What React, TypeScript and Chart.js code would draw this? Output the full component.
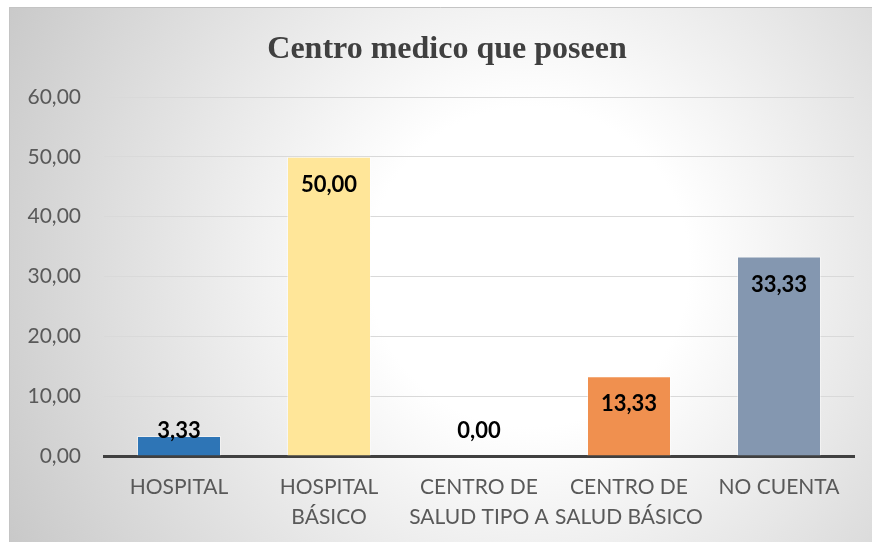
import React, { useEffect, useRef } from "react";
import { Chart, registerables } from "chart.js";

Chart.register(...registerables);

const categories: (string | string[])[] = [
  "HOSPITAL",
  ["HOSPITAL", "BÁSICO"],
  ["CENTRO DE", "SALUD TIPO A"],
  ["CENTRO DE", "SALUD BÁSICO"],
  "NO CUENTA",
];
const values: number[] = [3.33, 50.0, 0.0, 13.33, 33.33];
const barColors: string[] = ["#2e75b6", "#ffe699", "#a9d18e", "#f0904f", "#8497b0"];
const titleText = "Centro medico que poseen";
const yMax = 60;
const yStep = 10;

const fmt = (v: number) => v.toFixed(2).replace(".", ",");

const bgPlugin = {
  id: "bgPlugin",
  beforeDraw(chart: any) {
    const { ctx, width, height } = chart;
    ctx.save();
    const g = ctx.createRadialGradient(520, 260, 0, 520, 260, 640);
    g.addColorStop(0, "#ffffff");
    g.addColorStop(0.25, "#ffffff");
    g.addColorStop(1, "#c2c2c2");
    ctx.fillStyle = g;
    ctx.fillRect(0, 0, width, height);
    ctx.strokeStyle = "#c4c4c4";
    ctx.lineWidth = 1;
    ctx.beginPath();
    ctx.moveTo(0.5, height);
    ctx.lineTo(0.5, 0.5);
    ctx.lineTo(width, 0.5);
    ctx.stroke();
    // title
    ctx.fillStyle = "#404040";
    ctx.font = "bold 32px 'Liberation Serif', 'Times New Roman', serif";
    ctx.textAlign = "center";
    ctx.textBaseline = "alphabetic";
    ctx.fillText(titleText, 438, 51);
    ctx.restore();
  },
};

const labelPlugin = {
  id: "labelPlugin",
  afterDatasetsDraw(chart: any) {
    const { ctx } = chart;
    const meta = chart.getDatasetMeta(0);
    const yScale = chart.scales.y;
    const base = yScale.getPixelForValue(0);
    ctx.save();
    ctx.fillStyle = "#000000";
    ctx.font = "bold 22px Lato, 'Open Sans', sans-serif";
    ctx.textAlign = "center";
    ctx.textBaseline = "middle";
    meta.data.forEach((bar: any, i: number) => {
      const y = Math.min(bar.y + 28, base - 25);
      ctx.fillText(fmt(values[i]), bar.x, y);
    });
    ctx.restore();
  },
};

export default function App() {
  const ref = useRef<HTMLCanvasElement>(null);
  useEffect(() => {
    if (!ref.current) return;
    const chart = new Chart(ref.current, {
      type: "bar",
      data: {
        labels: categories,
        datasets: [
          {
            data: values,
            backgroundColor: barColors,
            borderColor: "rgba(255,255,255,0.45)",
            borderWidth: 1,
            barPercentage: 0.56,
            categoryPercentage: 1,
          },
        ],
      },
      options: {
        animation: false,
        responsive: false,
        maintainAspectRatio: false,
        layout: { padding: { top: 90, right: 18, left: 0, bottom: 0 } },
        plugins: {
          legend: { display: false },
          title: { display: false },
          tooltip: { enabled: false },
        },
        scales: {
          x: {
            afterFit(scale: any) {
              scale.height = 86;
            },
            grid: { display: false, drawTicks: false },
            border: { display: true, color: "#404040", width: 3 },
            ticks: {
              color: "#595959",
              font: { family: "Lato, 'Open Sans', sans-serif", size: 21, lineHeight: 1.45 },
              padding: 16,
              maxRotation: 0,
              autoSkip: false,
            },
          },
          y: {
            min: 0,
            max: yMax,
            afterFit(scale: any) {
              scale.width = 95;
            },
            grid: { color: "#d9d9d9", lineWidth: 1, drawTicks: false },
            border: { display: false },
            ticks: {
              stepSize: yStep,
              color: "#595959",
              padding: 23,
              font: { family: "Lato, 'Open Sans', sans-serif", size: 21 },
              callback: (v: any) => fmt(Number(v)),
            },
          },
        },
      },
      plugins: [bgPlugin, labelPlugin],
    });
    return () => chart.destroy();
  }, []);
  return (
    <div style={{ position: "fixed", left: 9, top: 7, width: 863, height: 535 }}>
      <canvas ref={ref} width={863} height={535} style={{ display: "block" }} />
    </div>
  );
}
